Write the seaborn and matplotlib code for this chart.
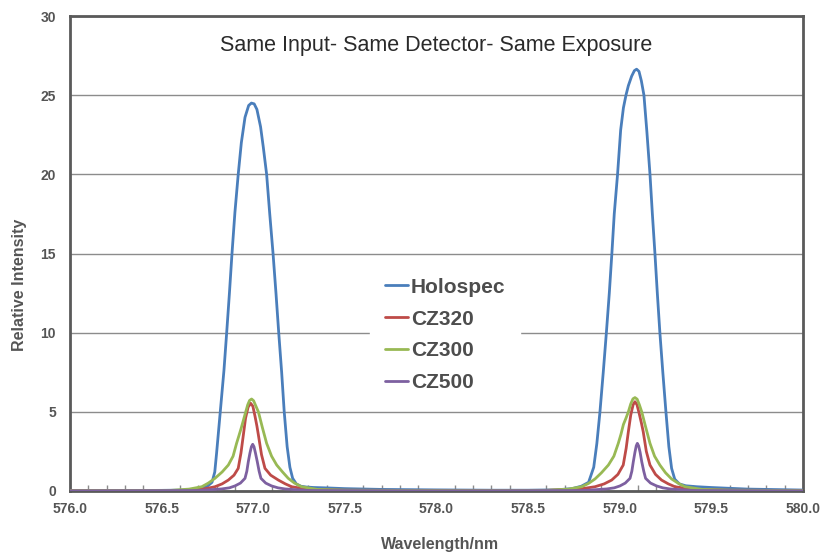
import matplotlib
matplotlib.use("Agg")
import matplotlib.pyplot as plt
from matplotlib.ticker import MultipleLocator
import seaborn as sns
import pandas as pd

# ---- data ----
holo_x = [576.0, 576.3, 576.5, 576.65, 576.72, 576.75, 576.775, 576.79, 576.8, 576.82, 576.84,
          576.855, 576.87, 576.884, 576.9, 576.918, 576.935, 576.955, 576.975, 576.99, 577.005,
          577.02, 577.04, 577.055, 577.073, 577.09, 577.108, 577.124, 577.139, 577.155, 577.169,
          577.185, 577.2, 577.215, 577.235, 577.26, 577.29, 577.33, 577.39, 577.5, 577.7, 578.0,
          578.3, 578.5, 578.65, 578.74, 578.79, 578.83, 578.858, 578.875, 578.892, 578.91, 578.927,
          578.943, 578.957, 578.97, 578.988, 579.005, 579.02, 579.034, 579.047, 579.065, 579.08,
          579.092, 579.105, 579.118, 579.132, 579.148, 579.165, 579.178, 579.192, 579.205, 579.219,
          579.235, 579.252, 579.268, 579.283, 579.3, 579.325, 579.36, 579.42, 579.5, 579.7, 580.0]
holo_y = [0.03, 0.03, 0.04, 0.06, 0.15, 0.3, 0.55, 1.2, 2.4, 5.0, 7.6,
          10.0, 12.5, 15.0, 17.6, 20.0, 22.0, 23.6, 24.35, 24.5, 24.45,
          24.1, 23.0, 21.7, 20.0, 17.5, 15.0, 12.5, 10.0, 7.5, 5.0,
          2.8, 1.5, 0.8, 0.45, 0.3, 0.25, 0.22, 0.2, 0.15, 0.1, 0.07,
          0.05, 0.05, 0.07, 0.15, 0.3, 0.55, 1.5, 3.0, 5.0, 7.5, 10.0,
          12.5, 15.0, 17.5, 20.0, 22.8, 24.2, 25.0, 25.6, 26.2, 26.55,
          26.64, 26.5, 25.9, 25.0, 22.7, 20.0, 17.5, 15.0, 12.5, 10.0,
          7.5, 5.0, 2.8, 1.43, 0.75, 0.45, 0.33, 0.27, 0.22, 0.12, 0.06]

cz320_x = [576.0, 576.6, 576.72, 576.791, 576.83, 576.864, 576.895, 576.918, 576.933, 576.946,
           576.958, 576.972, 576.986, 576.998, 577.01, 577.02, 577.028, 577.045, 577.064, 577.095,
           577.137, 577.175, 577.21, 577.3, 577.5, 578.0, 578.6, 578.78, 578.865, 578.915, 578.956,
           578.99, 579.019, 579.035, 579.047, 579.06, 579.073, 579.083, 579.094, 579.106, 579.118,
           579.128, 579.145, 579.165, 579.195, 579.228, 579.265, 579.301, 579.4, 579.6, 580.0]
cz320_y = [0.02, 0.03, 0.1, 0.27, 0.45, 0.69, 1.0, 1.43, 2.4, 3.54,
           4.6, 5.3, 5.54, 5.35, 4.7, 4.1, 3.54, 2.3, 1.43, 1.0,
           0.69, 0.45, 0.27, 0.1, 0.05, 0.03, 0.04, 0.12, 0.27, 0.45, 0.69,
           1.05, 1.64, 2.7, 3.75, 4.8, 5.45, 5.64, 5.45, 4.9, 4.3,
           3.75, 2.5, 1.64, 1.05, 0.69, 0.45, 0.27, 0.1, 0.05, 0.03]

cz300_x = [576.0, 576.55, 576.65, 576.719, 576.755, 576.791, 576.83, 576.864, 576.89, 576.909,
           576.922, 576.935, 576.947, 576.959, 576.97, 576.98, 576.991, 577.002, 577.013, 577.028,
           577.05, 577.073, 577.1, 577.128, 577.16, 577.191, 577.225, 577.264, 577.35, 577.5, 578.0,
           578.6, 578.72, 578.792, 578.83, 578.865, 578.9, 578.938, 578.968, 578.992, 579.007,
           579.02, 579.034, 579.047, 579.06, 579.072, 579.083, 579.095, 579.107, 579.12, 579.14,
           579.165, 579.19, 579.219, 579.25, 579.283, 579.32, 579.356, 579.45, 579.6, 580.0]
cz300_y = [0.02, 0.04, 0.12, 0.27, 0.5, 0.8, 1.2, 1.64, 2.2, 3.01,
           3.5, 4.0, 4.5, 5.0, 5.45, 5.72, 5.81, 5.7, 5.4, 5.0,
           4.0, 3.01, 2.2, 1.64, 1.2, 0.8, 0.5, 0.27, 0.1, 0.05, 0.03,
           0.04, 0.12, 0.27, 0.48, 0.76, 1.15, 1.64, 2.2, 3.01, 3.6,
           4.2, 4.6, 5.0, 5.5, 5.82, 5.9, 5.8, 5.45, 5.0, 4.1,
           3.01, 2.2, 1.64, 1.15, 0.76, 0.48, 0.27, 0.1, 0.05, 0.03]

cz500_x = [576.0, 576.7, 576.828, 576.87, 576.9, 576.93, 576.955, 576.965, 576.973, 576.982,
           576.99, 576.997, 577.004, 577.012, 577.022, 577.032, 577.042, 577.068, 577.1, 577.135,
           577.173, 577.3, 578.0, 578.8, 578.929, 578.97, 579.001, 579.03, 579.056, 579.066,
           579.074, 579.083, 579.09, 579.096, 579.103, 579.111, 579.12, 579.131, 579.141, 579.168,
           579.201, 579.235, 579.274, 579.4, 580.0]
cz500_y = [0.01, 0.03, 0.13, 0.2, 0.32, 0.5, 0.8, 1.25, 1.85, 2.4,
           2.8, 2.95, 2.8, 2.4, 1.85, 1.25, 0.8, 0.5, 0.32, 0.2,
           0.13, 0.03, 0.01, 0.03, 0.13, 0.2, 0.32, 0.5, 0.8, 1.25,
           1.85, 2.45, 2.85, 3.01, 2.85, 2.45, 1.85, 1.25, 0.8, 0.5,
           0.32, 0.2, 0.13, 0.03, 0.01]

series_names = ["Holospec", "CZ320", "CZ300", "CZ500"]
series_colors = ["#4A7EBB", "#BE4B48", "#98B954", "#7D60A0"]
x_ticks = [576.0, 576.5, 577.0, 577.5, 578.0, 578.5, 579.0, 579.5, 580.0]
y_ticks = [0, 5, 10, 15, 20, 25, 30]

frames = []
for name, xs, ys in zip(series_names, [holo_x, cz320_x, cz300_x, cz500_x],
                        [holo_y, cz320_y, cz300_y, cz500_y]):
    frames.append(pd.DataFrame({"Wavelength": xs, "Intensity": ys, "Series": name}))
df = pd.concat(frames, ignore_index=True)

sns.set_theme(style="white")
plt.rcParams["font.family"] = ["Liberation Sans", "DejaVu Sans"]

fig = plt.figure(figsize=(8.21, 5.55), dpi=100)
ax = fig.add_axes([70 / 821, 1 - 491 / 555, (803 - 70) / 821, (491 - 16) / 555])

sns.lineplot(data=df, x="Wavelength", y="Intensity", hue="Series",
             hue_order=series_names, palette=series_colors, sort=False,
             estimator=None, linewidth=2.0, ax=ax, zorder=3)
for ln in ax.get_lines():
    ln.set_solid_joinstyle("round")
    ln.set_solid_capstyle("round")

ax.set_xlim(576.0, 580.0)
ax.set_ylim(0, 30)
ax.set_xticks(x_ticks)
ax.set_xticklabels([f"{t:.1f}" for t in x_ticks])
ax.set_yticks(y_ticks)
ax.set_yticklabels([str(t) for t in y_ticks])
ax.xaxis.set_minor_locator(MultipleLocator(0.1))
ax.yaxis.grid(True, color="#8c8c8c", linewidth=1.0)
ax.xaxis.grid(False)
ax.set_axisbelow(True)

for s in ax.spines.values():
    s.set_color("#5a5a5a")
    s.set_linewidth(2.0)
    s.set_visible(True)

ax.tick_params(axis="x", which="major", direction="in", length=5, color="#8c8c8c",
               labelsize=10, labelcolor="#555555", pad=8)
ax.tick_params(axis="x", which="minor", direction="in", length=4, color="#8c8c8c", bottom=True)
ax.tick_params(axis="y", which="major", length=0, labelsize=10, labelcolor="#555555", pad=10)
for lab in ax.get_xticklabels() + ax.get_yticklabels():
    lab.set_fontweight("bold")

ax.set_xlabel("Wavelength/nm", fontsize=11.5, fontweight="bold", color="#555555")
ax.set_ylabel("Relative Intensity", fontsize=11.5, fontweight="bold", color="#555555")
ax.xaxis.set_label_coords((440 - 70) / 733, (491 - 537) / 475)
ax.yaxis.set_label_coords((27 - 70) / 733, (491 - 285) / 475)

ax.text(0.5, (491 - 46) / 475, "Same Input- Same Detector- Same Exposure", transform=ax.transAxes,
        ha="center", va="center", fontsize=15.5, color="#2a2a2a")

leg = ax.legend(loc="center", bbox_to_anchor=((445 - 70) / 733, (491 - 335) / 475),
                frameon=True, fontsize=15, handlelength=1.1, handletextpad=0.15,
                labelspacing=0.62, borderpad=0.7)
leg.get_frame().set_facecolor("white")
leg.get_frame().set_edgecolor("white")
leg.get_frame().set_alpha(1.0)
leg.set_zorder(5)
for t in leg.get_texts():
    t.set_fontweight("bold")
    t.set_color("#4d4d4d")
for h in leg.get_lines():
    h.set_linewidth(2.0)

fig.savefig("out.png", dpi=100)
